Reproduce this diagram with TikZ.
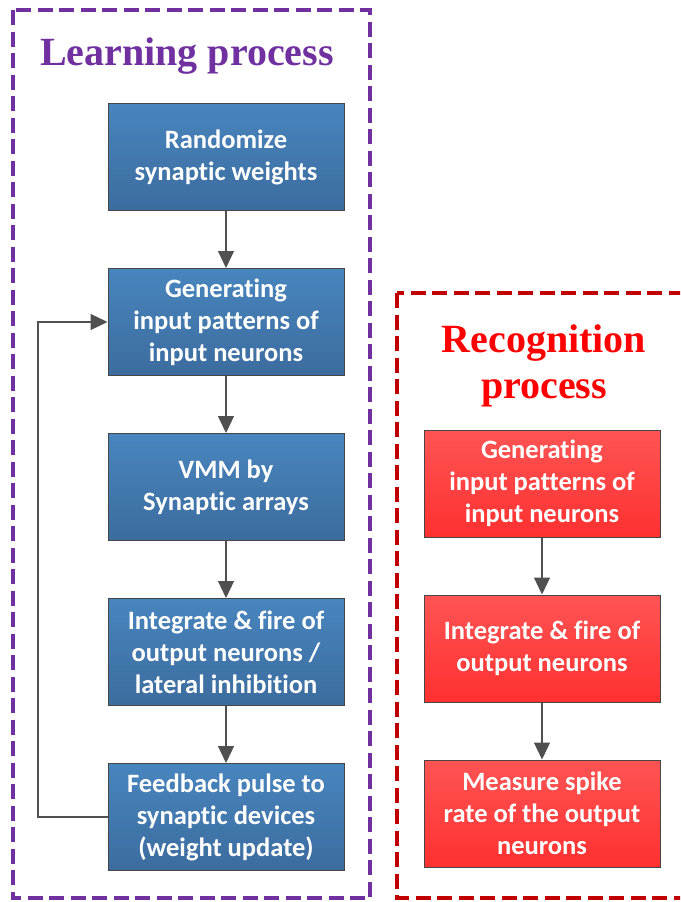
\documentclass[tikz,border=0pt]{standalone}
\usepackage{fontspec}
\setmainfont{Carlito}[Ligatures=NoCommon]
\newfontfamily\headfont{Liberation Serif}
\usetikzlibrary{arrows.meta}

\definecolor{learnpurple}{RGB}{112,48,160}
\definecolor{recogred}{RGB}{192,0,0}
\definecolor{headred}{RGB}{255,0,0}
\definecolor{bluetop}{RGB}{72,133,190}
\definecolor{bluebot}{RGB}{60,108,158}
\definecolor{redtop}{RGB}{255,84,84}
\definecolor{redbot}{RGB}{255,48,48}
\definecolor{edgegray}{RGB}{70,70,70}
\definecolor{arrowgray}{RGB}{80,80,80}

\tikzset{
  x=1pt, y=-1pt,
  stepbox/.style={draw=edgegray, line width=1pt, minimum width=236pt, minimum height=107pt,
    inner sep=0pt, align=center, text=white,
    font=\bfseries\fontsize{26.5}{32}\selectfont},
  bluebox/.style={stepbox, top color=bluetop, bottom color=bluebot},
  redbox/.style={stepbox, top color=redtop, bottom color=redbot},
  flow/.style={draw=arrowgray, line width=1.1pt, -{Triangle[length=17pt,width=16pt]}},
  frame/.style={line width=4pt, dash pattern=on 15pt off 6.5pt},
  heading/.style={font=\headfont\bfseries\fontsize{40}{46}\selectfont, anchor=base, inner sep=0pt}
}

\begin{document}
\begin{tikzpicture}
\clip (0,0) rectangle (680,902);

% group frames
\draw[frame, learnpurple] (12.5,10) rectangle (370,898);
\draw[frame, recogred] (397,293) rectangle (720,898);

% headings
\node[heading, text=learnpurple] (hlearn) at (187,65) {Learning process};
\node[heading, text=headred] (hrecog1) at (544,352) {Recognition};
\node[heading, text=headred] (hrecog2) at (544,398) {process};

% learning steps
\node[bluebox] (l1) at (226,157) {Randomize\\synaptic weights};
\node[bluebox] (l2) at (226,322) {Generating\\input patterns of\\input neurons};
\node[bluebox] (l3) at (226,487) {VMM by\\Synaptic arrays};
\node[bluebox] (l4) at (226,652) {Integrate \& fire of\\output neurons /\\lateral inhibition};
\node[bluebox] (l5) at (226,817) {Feedback pulse to\\synaptic devices\\(weight update)};

% recognition steps
\node[redbox] (r1) at (542,483.5) {Generating\\input patterns of\\input neurons};
\node[redbox] (r2) at (542,648.5) {Integrate \& fire of\\output neurons};
\node[redbox] (r3) at (542,813.5) {Measure spike\\rate of the output\\neurons};

% connectors
\draw[flow] (l1) -- (l2);
\draw[flow] (l2) -- (l3);
\draw[flow] (l3) -- (l4);
\draw[flow] (l4) -- (l5);
\coordinate (loop) at (38,0);
\draw[flow] (l5.west) -| (loop |- l5.west) |- (l2.west);
\draw[flow] (r1) -- (r2);
\draw[flow] (r2) -- (r3);
\end{tikzpicture}
\end{document}
